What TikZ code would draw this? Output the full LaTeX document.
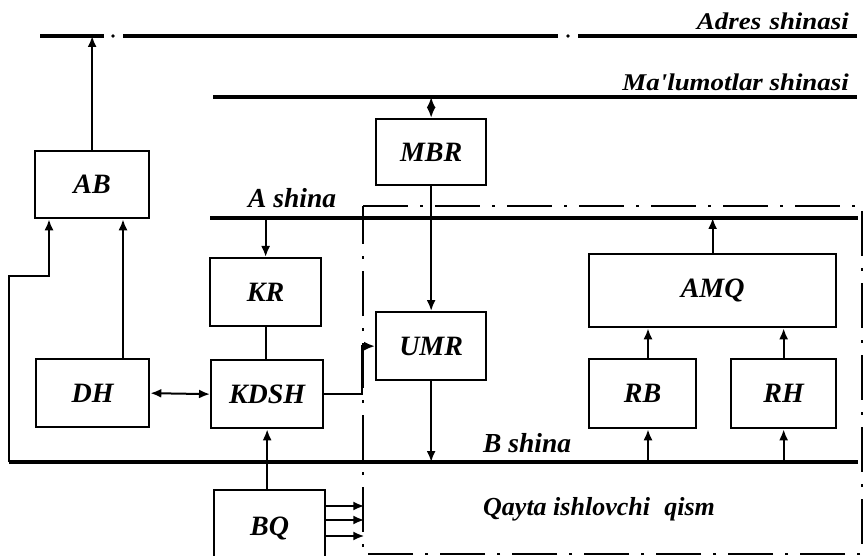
\documentclass[tikz,border=0pt]{standalone}
\usepackage{fontspec}
\setmainfont{Liberation Serif}
\newfontfamily\stretchedfont[FakeStretch=1.12]{Liberation Serif}
\usetikzlibrary{arrows.meta}
\begin{document}
\begin{tikzpicture}[x=1pt,y=-1pt,
  box/.style={draw, line width=2.3pt, inner sep=0pt, anchor=north west,
    font=\bfseries\itshape\fontsize{28}{30}\selectfont},
  bus/.style={line width=3.4pt},
  conn/.style={line width=2pt},
  tip/.style={},
  arr/.style={conn, -{Latex[length=11pt,width=9pt]}},
  darr/.style={conn, {Latex[length=11pt,width=9pt]}-{Latex[length=11pt,width=9pt]}},
  lbl/.style={font=\bfseries\itshape\fontsize{27.5}{30}\selectfont, inner sep=0pt, anchor=base west},
  toplbl/.style={font=\stretchedfont\bfseries\itshape\fontsize{24}{28}\selectfont, inner sep=0pt, anchor=base east},
  frame/.style={line width=2.3pt, dash pattern=on 45pt off 12pt on 3pt off 12pt}
]
\useasboundingbox (0,0) rectangle (865,556);
\clip (0,0) rectangle (865,556);

% buses
\coordinate (adrA) at (40,36);
\coordinate (adrB) at (104,36);
\coordinate (adrC) at (123,36);
\coordinate (adrD) at (558,36);
\coordinate (adrE) at (578,36);
\coordinate (adrF) at (857,36);
\draw[bus] (adrA) -- (adrB);
\draw[bus] (adrC) -- (adrD);
\draw[bus] (adrE) -- (adrF);
\fill (113,36) circle (1.8);
\fill (568,36) circle (1.8);

\coordinate (malL) at (213,97);
\coordinate (malR) at (857,97);
\draw[bus] (malL) -- (malR);

\coordinate (aL) at (210,218);
\coordinate (aR) at (858,218);
\draw[bus] (aL) -- (aR);

\coordinate (bL) at (9,462);
\coordinate (bR) at (858,462);
\draw[bus] (bL) -- (bR);

% dash-dot frame of the processing part
\draw[frame] (363,206) -- (862,206) -- (862,554) -- (363,554) -- cycle;

% boxes
\node[box, minimum width=114pt, minimum height=67pt] (AB) at (34,150) {AB};
\node[box, minimum width=110pt, minimum height=66pt] (MBR) at (375,118) {MBR};
\node[box, minimum width=111pt, minimum height=68pt] (KR) at (209,257) {KR};
\node[box, minimum width=113pt, minimum height=68pt] (DH) at (35,358) {DH};
\node[box, minimum width=112pt, minimum height=68pt] (KDSH) at (210,359) {KDSH};
\node[box, minimum width=110pt, minimum height=68pt] (UMR) at (375,311) {UMR};
\node[box, minimum width=247pt, minimum height=73pt] (AMQ) at (588,253) {AMQ};
\node[box, minimum width=107pt, minimum height=69pt] (RB) at (588,358) {RB};
\node[box, minimum width=105pt, minimum height=69pt] (RH) at (730,358) {RH};
\node[box, minimum width=111pt, minimum height=76pt] (BQ) at (213,489) {BQ};

% connectors
\draw[arr] (AB.north) -- (AB.north |- adrA);
\draw[darr] (MBR.north |- malL) -- (MBR.north);
\draw[arr] (MBR.south) -- (UMR.north);
\draw[arr] (UMR.south) -- (UMR.south |- bL);
\draw[arr] (KR.north |- aL) -- (KR.north);
\draw[conn] (KR.south) -- (KR.south |- KDSH.north);
\draw[darr] (DH.east) -- (KDSH.west);
\draw[arr] (KDSH.east) -- ++(38,0) |- (UMR.west);
\draw[arr] (BQ.north -| KDSH.south) -- (KDSH.south);
\draw[arr] ([yshift=-17pt]BQ.north east) -- ++(38,0);
\draw[arr] ([yshift=-31pt]BQ.north east) -- ++(38,0);
\draw[arr] ([yshift=-47pt]BQ.north east) -- ++(38,0);
\draw[arr] (DH.north -| 123,0) -- (AB.south -| 123,0);
\draw[arr] (bL) -- (9,276) -- (49,276) -- (AB.south -| 49,0);
\draw[arr] (AMQ.north) -- (AMQ.north |- aL);
\draw[arr] (RB.north -| 648,0) -- (AMQ.south -| 648,0);
\draw[arr] (RH.north) -- (RH.north |- AMQ.south);
\draw[arr] (bL -| 648,0) -- (RB.south -| 648,0);
\draw[arr] (bL -| RH.south) -- (RH.south);

% labels
\node[toplbl] (adrlbl) at (849,30) {Adres\hspace{0.35em}shinasi};
\node[toplbl] (mallbl) at (849,91) {Ma'lumotlar shinasi};
\node[lbl] (albl) at (248,208) {A shina};
\node[lbl] (blbl) at (483,452) {B shina};
\node[lbl, font=\bfseries\itshape\fontsize{26}{28}\selectfont] (qlbl) at (483,515) {Qayta ishlovchi\hspace{0.3em} qism};
\end{tikzpicture}
\end{document}
